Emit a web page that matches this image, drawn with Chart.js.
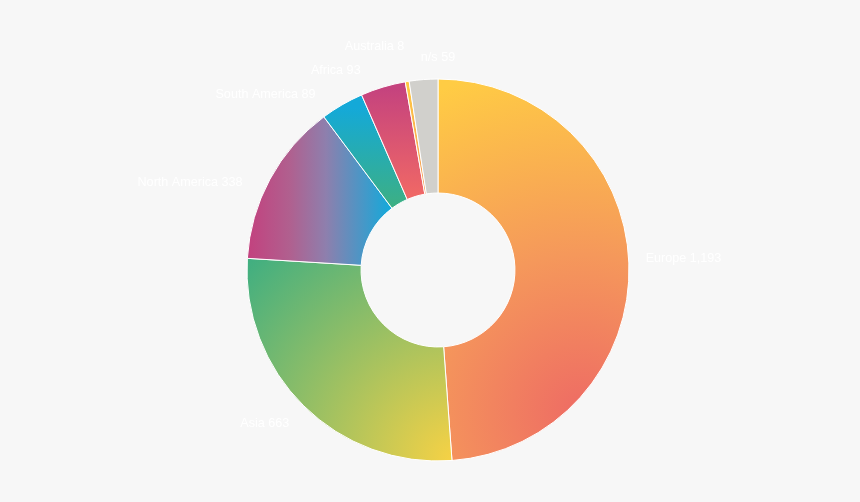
<!DOCTYPE html>
<html>
<head>
<meta charset="utf-8">
<script src="https://cdn.jsdelivr.net/npm/chart.js@4"></script>
<style>
  html, body { margin: 0; padding: 0; background: #f7f7f7; }
  #wrap { width: 860px; height: 502px; position: relative; }
</style>
</head>
<body>
<div id="wrap"><canvas id="c" width="860" height="502"></canvas></div>
<script>
// ---- data ----
const categories = ['Europe', 'Asia', 'North America', 'South America', 'Africa', 'Australia', 'n/s'];
const values = [1193, 663, 338, 89, 93, 8, 59];

// ---- styles (gradient specs relative to centre, in units of radius) ----
const fills = [
  { type: 'radial', c: [0.75, 0.75], r: 1.85, stops: [[0, '#EE6B64'], [0.45, '#F5985B'], [1, '#FFCC44']] },
  { type: 'radial', c: [0.1, 1.0], r: 1.5, stops: [[0, '#F9D244'], [1, '#42AF80']] },
  { type: 'linear', p: [-1, 0, -0.25, 0], stops: [[0, '#C3417E'], [0.3, '#B0608F'], [0.55, '#8E7FAD'], [1, '#14A9DA']] },
  { type: 'linear', p: [0, -0.85, 0, -0.3], stops: [[0, '#14A9D8'], [1, '#3FB07E']] },
  { type: 'linear', p: [0, -0.95, 0, -0.4], stops: [[0, '#C5437E'], [1, '#EF6766']] },
  { type: 'linear', p: [0, -1, 0, -0.4], stops: [[0, '#FFCA40'], [1, '#F59A5A']] },
  { type: 'solid', color: '#D1D0CC' }
];

const RADIUS = 191;
const CUTOUT = '40.3%';

function makeFill(ctx) {
  const chart = ctx.chart;
  const f = fills[ctx.dataIndex];
  if (!f) return '#ccc';
  if (f.type === 'solid') return f.color;
  const area = chart.chartArea;
  if (!area) return f.stops[0][1];
  const cx = (area.left + area.right) / 2;
  const cy = (area.top + area.bottom) / 2;
  const r = RADIUS;
  const g2 = chart.ctx;
  let g;
  if (f.type === 'radial') {
    g = g2.createRadialGradient(cx + f.c[0] * r, cy + f.c[1] * r, 0, cx + f.c[0] * r, cy + f.c[1] * r, f.r * r);
  } else {
    g = g2.createLinearGradient(cx + f.p[0] * r, cy + f.p[1] * r, cx + f.p[2] * r, cy + f.p[3] * r);
  }
  f.stops.forEach(s => g.addColorStop(s[0], s[1]));
  return g;
}

// ---- outside labels, Highcharts-like distribution ----
const outsideLabels = {
  id: 'outsideLabels',
  afterDatasetsDraw(chart) {
    const meta = chart.getDatasetMeta(0);
    const ctx = chart.ctx;
    const items = [];
    meta.data.forEach((arc, i) => {
      const p = arc.getProps(['x', 'y', 'startAngle', 'endAngle', 'outerRadius'], true);
      const mid = (p.startAngle + p.endAngle) / 2;
      const Rt = p.outerRadius + 18;
      const right = Math.cos(mid) > -0.1;
      items.push({
        i, cx: p.x, cy: p.y, mid, right,
        target: p.y + Math.sin(mid) * Rt,
        natX: p.x + Math.cos(mid) * Rt,
        R: p.outerRadius + (right ? 17 : 23)
      });
    });
    const slot = 24;
    [true, false].forEach(side => {
      const list = items.filter(it => it.right === side).sort((a, b) => a.target - b.target);
      let groups = list.map(it => ({ items: [it], sum: it.target }));
      const place = g => {
        const n = g.items.length;
        g.start = g.sum / n - (n - 1) * slot / 2;
      };
      groups.forEach(place);
      let changed = true;
      while (changed) {
        changed = false;
        for (let k = 0; k < groups.length - 1; k++) {
          const a = groups[k], b = groups[k + 1];
          if (a.start + a.items.length * slot > b.start) {
            const m = { items: a.items.concat(b.items), sum: a.sum + b.sum };
            place(m);
            groups.splice(k, 2, m);
            changed = true;
            break;
          }
        }
      }
      groups.forEach(g => g.items.forEach((it, j) => { it.y = g.start + j * slot; }));
    });

    ctx.save();
    ctx.font = '12.6px "Liberation Sans", Arial, sans-serif';
    ctx.fillStyle = '#ffffff';
    ctx.textBaseline = 'middle';
    items.forEach(it => {
      const s = Math.sin(it.mid);
      // lower-left labels sit a little lower, as in the reference layout
      const drop = (!it.right && s > -0.7) ? 9 + 15 * Math.max(0, -s) : 0;
      const ty = it.y - 3.8 + drop;
      const dy = ty - it.cy;
      const dx = Math.sqrt(Math.max(0, it.R * it.R - dy * dy));
      let x, align;
      if (it.right) {
        x = it.cx + dx;
        align = (x - it.cx < 5) ? 'center' : 'left';
      } else {
        x = Math.min(it.cx - dx, it.natX);
        align = 'right';
      }
      ctx.textAlign = align;
      const text = categories[it.i] + ' ' + values[it.i].toLocaleString('en-US');
      ctx.fillText(text, x, ty);
    });
    ctx.restore();
  }
};

new Chart(document.getElementById('c'), {
  type: 'doughnut',
  data: {
    labels: categories,
    datasets: [{
      data: values,
      backgroundColor: makeFill,
      hoverBackgroundColor: makeFill,
      borderColor: '#ffffff',
      borderWidth: 1,
      hoverOffset: 0
    }]
  },
  options: {
    responsive: false,
    animation: false,
    radius: RADIUS,
    cutout: CUTOUT,
    layout: { padding: { left: 16, right: 0, top: 38, bottom: 0 } },
    plugins: {
      legend: { display: false },
      tooltip: { enabled: false }
    },
    events: []
  },
  plugins: [outsideLabels]
});
</script>
</body>
</html>
